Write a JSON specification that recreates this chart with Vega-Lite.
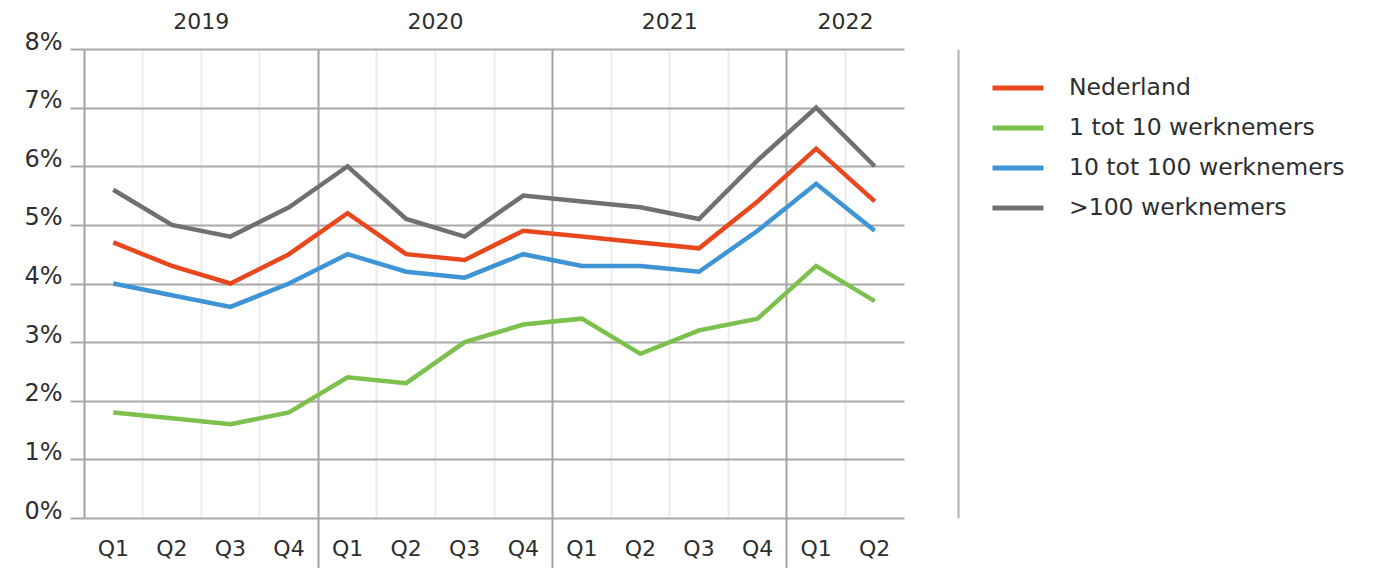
{
  "$schema": "https://vega.github.io/schema/vega-lite/v6.json",
  "width": 820,
  "height": 469,
  "autosize": {"type": "none"},
  "padding": {"left": 84, "top": 49, "right": 469, "bottom": 50},
  "background": "white",
  "config": {
    "view": {"stroke": null},
    "font": "DejaVu Sans",
    "text": {"font": "DejaVu Sans"},
    "axis": {"labelFont": "DejaVu Sans", "labelColor": "#2e2e2e", "title": null}
  },
  "datasets": {
    "rates": [
      {"period": "2019 Q1", "series": "Nederland", "value": 4.7},
      {"period": "2019 Q2", "series": "Nederland", "value": 4.3},
      {"period": "2019 Q3", "series": "Nederland", "value": 4.0},
      {"period": "2019 Q4", "series": "Nederland", "value": 4.5},
      {"period": "2020 Q1", "series": "Nederland", "value": 5.2},
      {"period": "2020 Q2", "series": "Nederland", "value": 4.5},
      {"period": "2020 Q3", "series": "Nederland", "value": 4.4},
      {"period": "2020 Q4", "series": "Nederland", "value": 4.9},
      {"period": "2021 Q1", "series": "Nederland", "value": 4.8},
      {"period": "2021 Q2", "series": "Nederland", "value": 4.7},
      {"period": "2021 Q3", "series": "Nederland", "value": 4.6},
      {"period": "2021 Q4", "series": "Nederland", "value": 5.4},
      {"period": "2022 Q1", "series": "Nederland", "value": 6.3},
      {"period": "2022 Q2", "series": "Nederland", "value": 5.4},
      {"period": "2019 Q1", "series": "1 tot 10 werknemers", "value": 1.8},
      {"period": "2019 Q2", "series": "1 tot 10 werknemers", "value": 1.7},
      {"period": "2019 Q3", "series": "1 tot 10 werknemers", "value": 1.6},
      {"period": "2019 Q4", "series": "1 tot 10 werknemers", "value": 1.8},
      {"period": "2020 Q1", "series": "1 tot 10 werknemers", "value": 2.4},
      {"period": "2020 Q2", "series": "1 tot 10 werknemers", "value": 2.3},
      {"period": "2020 Q3", "series": "1 tot 10 werknemers", "value": 3.0},
      {"period": "2020 Q4", "series": "1 tot 10 werknemers", "value": 3.3},
      {"period": "2021 Q1", "series": "1 tot 10 werknemers", "value": 3.4},
      {"period": "2021 Q2", "series": "1 tot 10 werknemers", "value": 2.8},
      {"period": "2021 Q3", "series": "1 tot 10 werknemers", "value": 3.2},
      {"period": "2021 Q4", "series": "1 tot 10 werknemers", "value": 3.4},
      {"period": "2022 Q1", "series": "1 tot 10 werknemers", "value": 4.3},
      {"period": "2022 Q2", "series": "1 tot 10 werknemers", "value": 3.7},
      {"period": "2019 Q1", "series": "10 tot 100 werknemers", "value": 4.0},
      {"period": "2019 Q2", "series": "10 tot 100 werknemers", "value": 3.8},
      {"period": "2019 Q3", "series": "10 tot 100 werknemers", "value": 3.6},
      {"period": "2019 Q4", "series": "10 tot 100 werknemers", "value": 4.0},
      {"period": "2020 Q1", "series": "10 tot 100 werknemers", "value": 4.5},
      {"period": "2020 Q2", "series": "10 tot 100 werknemers", "value": 4.2},
      {"period": "2020 Q3", "series": "10 tot 100 werknemers", "value": 4.1},
      {"period": "2020 Q4", "series": "10 tot 100 werknemers", "value": 4.5},
      {"period": "2021 Q1", "series": "10 tot 100 werknemers", "value": 4.3},
      {"period": "2021 Q2", "series": "10 tot 100 werknemers", "value": 4.3},
      {"period": "2021 Q3", "series": "10 tot 100 werknemers", "value": 4.2},
      {"period": "2021 Q4", "series": "10 tot 100 werknemers", "value": 4.9},
      {"period": "2022 Q1", "series": "10 tot 100 werknemers", "value": 5.7},
      {"period": "2022 Q2", "series": "10 tot 100 werknemers", "value": 4.9},
      {"period": "2019 Q1", "series": " >100 werknemers", "value": 5.6},
      {"period": "2019 Q2", "series": " >100 werknemers", "value": 5.0},
      {"period": "2019 Q3", "series": " >100 werknemers", "value": 4.8},
      {"period": "2019 Q4", "series": " >100 werknemers", "value": 5.3},
      {"period": "2020 Q1", "series": " >100 werknemers", "value": 6.0},
      {"period": "2020 Q2", "series": " >100 werknemers", "value": 5.1},
      {"period": "2020 Q3", "series": " >100 werknemers", "value": 4.8},
      {"period": "2020 Q4", "series": " >100 werknemers", "value": 5.5},
      {"period": "2021 Q1", "series": " >100 werknemers", "value": 5.4},
      {"period": "2021 Q2", "series": " >100 werknemers", "value": 5.3},
      {"period": "2021 Q3", "series": " >100 werknemers", "value": 5.1},
      {"period": "2021 Q4", "series": " >100 werknemers", "value": 6.1},
      {"period": "2022 Q1", "series": " >100 werknemers", "value": 7.0},
      {"period": "2022 Q2", "series": " >100 werknemers", "value": 6.0}
    ],
    "years": [
      {"year": "2019", "anchor": "2019 Q2", "top": 8},
      {"year": "2020", "anchor": "2020 Q2", "top": 8},
      {"year": "2021", "anchor": "2021 Q2", "top": 8},
      {"year": "2022", "anchor": "2022 Q1", "top": 8}
    ]
  },
  "resolve": {"axis": {"y": "independent"}},
  "layer": [
    {
      "data": {"name": "rates"},
      "mark": {"type": "line", "strokeWidth": 4.5},
      "encoding": {
        "x": {
          "field": "period",
          "type": "nominal",
          "sort": null,
          "scale": {
            "type": "band",
            "domain": ["2019 Q1", "2019 Q2", "2019 Q3", "2019 Q4", "2020 Q1", "2020 Q2", "2020 Q3", "2020 Q4", "2021 Q1", "2021 Q2", "2021 Q3", "2021 Q4", "2022 Q1", "2022 Q2"],
            "paddingInner": 0,
            "paddingOuter": 0
          },
          "axis": {
            "orient": "bottom",
            "domain": false,
            "bandPosition": 0,
            "labelOffset": 0,
            "labelAngle": 0,
            "labelFontSize": 22,
            "labelBaseline": "top",
            "labelPadding": -30,
            "labelExpr": "split(datum.label, ' ')[1]",
            "grid": true,
            "gridWidth": 2,
            "gridColor": {"condition": {"test": "indexof(datum.value, 'Q1') >= 0", "value": "#a3a3a3"}, "value": "#ebebeb"},
            "ticks": true,
            "tickSize": 50,
            "tickWidth": 2,
            "tickColor": {"condition": {"test": "indexof(datum.value, 'Q1') >= 0 && datum.value != '2019 Q1'", "value": "#a3a3a3"}, "value": "transparent"}
          }
        },
        "y": {
          "field": "value",
          "type": "quantitative",
          "scale": {"domain": [0, 8], "nice": false, "zero": true},
          "axis": {
            "orient": "left",
            "values": [0, 1, 2, 3, 4, 5, 6, 7, 8],
            "labelExpr": "datum.value + '%'",
            "domain": false,
            "grid": true,
            "gridColor": "#a8a8a8",
            "gridWidth": 2,
            "ticks": true,
            "tickSize": 14,
            "tickWidth": 2,
            "tickColor": "#a8a8a8",
            "labelFontSize": 24,
            "labelPadding": 8,
            "labelBaseline": "alphabetic",
            "labelOffset": 0
          }
        },
        "color": {
          "field": "series",
          "type": "nominal",
          "scale": {
            "domain": ["Nederland", "1 tot 10 werknemers", "10 tot 100 werknemers", " >100 werknemers"],
            "range": ["#e8481e", "#7cc04e", "#3f94d6", "#707070"]
          },
          "legend": {
            "title": null,
            "orient": "none",
            "legendX": 906,
            "legendY": 11,
            "padding": 0,
            "symbolType": "stroke",
            "symbolSize": 2600,
            "symbolStrokeWidth": 5,
            "labelFont": "DejaVu Sans",
            "labelFontSize": 23.5,
            "labelColor": "#2e2e2e",
            "labelOffset": 23,
            "rowPadding": -13.3,
            "labelLimit": 400,
            "labelExpr": "datum.label == ' >100 werknemers' ? '\u00a0>100 werknemers' : datum.label"
          }
        }
      }
    },
    {
      "data": {"name": "years"},
      "mark": {"type": "text", "fontSize": 22, "color": "#2e2e2e", "dy": -27, "baseline": "middle"},
      "encoding": {
        "x": {"field": "anchor", "type": "nominal", "bandPosition": 1},
        "y": {
          "field": "top",
          "type": "quantitative",
          "axis": {
            "orient": "right",
            "offset": 54,
            "domain": true,
            "domainColor": "#b0b0b0",
            "domainWidth": 2,
            "labels": false,
            "ticks": false,
            "grid": false
          }
        },
        "text": {"field": "year"}
      }
    }
  ]
}
